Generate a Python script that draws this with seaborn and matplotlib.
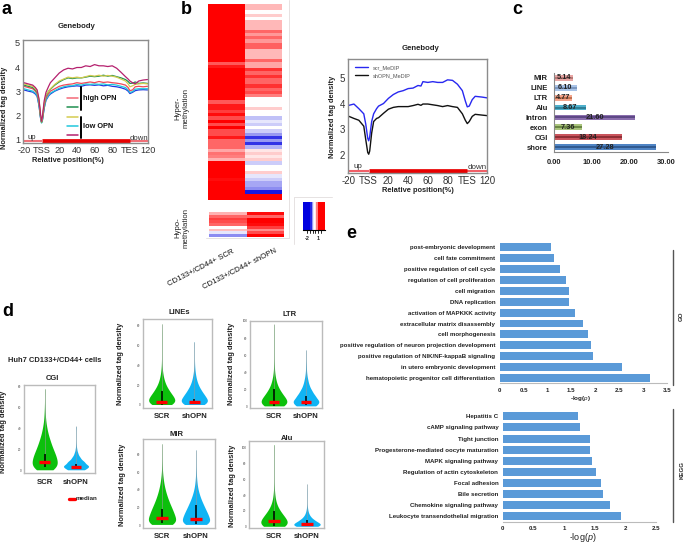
import matplotlib
matplotlib.use("Agg")
import matplotlib.pyplot as plt
from matplotlib.colors import LinearSegmentedColormap
import numpy as np
import pandas as pd
import seaborn as sns

sns.set_style("white")
plt.rcParams['font.family'] = ['Liberation Sans', 'DejaVu Sans']
plt.rcParams['mathtext.fontset'] = 'custom'
plt.rcParams['mathtext.rm'] = 'Liberation Sans'
plt.rcParams['mathtext.it'] = 'Liberation Sans:italic'

W, H = 685, 544

### panel a, profile curves
pos_a = [-20, -15, -10, -7, -5, -3, -1, 0, 1, 3, 5, 8, 10, 15, 20, 25, 30, 35, 40, 45, 50, 55, 60, 65, 70, 75, 80, 85, 90, 95, 98, 100, 103, 106, 110, 115, 120]
a_purple = [3.35, 3.3, 3.25, 3.15, 3.05, 2.7, 2.0, 1.75, 1.95, 2.6, 2.95, 3.2, 3.35, 3.55, 3.75, 3.88, 3.95, 3.92, 3.98, 3.98, 4.05, 4.02, 4.1, 4.05, 4.05, 4.02, 4.05, 3.95, 3.78, 3.6, 3.5, 3.42, 3.35, 3.3, 3.42, 3.46, 3.48]
a_yellow = [3.3, 3.25, 3.2, 3.1, 3.0, 2.65, 1.95, 1.72, 1.9, 2.5, 2.85, 3.0, 3.1, 3.28, 3.42, 3.5, 3.58, 3.55, 3.58, 3.55, 3.6, 3.65, 3.62, 3.66, 3.62, 3.65, 3.62, 3.58, 3.5, 3.42, 3.3, 3.18, 3.22, 3.28, 3.3, 3.32, 3.3]
a_teal = [3.25, 3.2, 3.15, 3.05, 2.95, 2.6, 1.9, 1.7, 1.85, 2.45, 2.8, 3.0, 3.08, 3.25, 3.38, 3.48, 3.55, 3.52, 3.55, 3.55, 3.58, 3.62, 3.6, 3.62, 3.66, 3.62, 3.65, 3.6, 3.55, 3.48, 3.4, 3.32, 3.33, 3.38, 3.32, 3.34, 3.32]
a_red = [3.2, 3.15, 3.1, 3.0, 2.9, 2.55, 1.9, 1.72, 1.85, 2.4, 2.72, 2.9, 3.0, 3.1, 3.2, 3.25, 3.28, 3.3, 3.35, 3.32, 3.35, 3.38, 3.35, 3.4, 3.36, 3.38, 3.35, 3.33, 3.3, 3.25, 3.15, 3.02, 3.05, 3.18, 3.2, 3.18, 3.2]
a_cyan = [3.1, 3.05, 3.0, 2.92, 2.82, 2.45, 1.85, 1.68, 1.8, 2.3, 2.65, 2.82, 2.92, 3.02, 3.12, 3.18, 3.22, 3.22, 3.28, 3.25, 3.3, 3.28, 3.3, 3.28, 3.3, 3.26, 3.28, 3.25, 3.2, 3.15, 3.05, 2.95, 2.98, 3.08, 3.1, 3.1, 3.1]
a_blue = [3.05, 3.0, 2.96, 2.88, 2.78, 2.42, 1.85, 1.7, 1.8, 2.3, 2.62, 2.8, 2.88, 3.0, 3.08, 3.14, 3.18, 3.2, 3.22, 3.2, 3.25, 3.26, 3.24, 3.26, 3.22, 3.24, 3.2, 3.18, 3.14, 3.08, 3.0, 2.9, 2.95, 3.02, 3.05, 3.06, 3.05]

### panel b, heatmaps
hyper_scr = [1, 1, 1, 1, 1, 1, 1, 1, 1, 1, 1, 1, 1, 1, 1, 1, 1, 1, .65, .9, 1, 1, 1, 1, 1, 1, 1, 1, 1, 1, .65, .9, .9, .75, .95, .7, 1, .7, 1, .7, .7, .9, .6, .6, .6, .35, .55, .5, .3, 1, 1, 1, 1, 1, .95, 1, 1, 1, 1, 1, 1]
hyper_sh = [.28, .28, 0, .2, 0, .28, .28, .28, .6, .4, .6, .4, .62, .62, .28, .28, .28, .6, .35, .35, .8, .6, .8, .6, .6, .8, .6, .7, .5, .0, .0, .0, .2, 0, 0, -.25, -.1, -.2, 0, -.2, -.4, -.8, -.4, -.8, -.3, .1, .2, .1, .2, -.2, 0, 0, .2, -.1, -.2, -.35, -.35, -.45, -.9, 1, 1]
hypo_scr = [.3, .6, .75, .7, .6, .0, .25, -.1, -.45]
hypo_sh = [.95, .6, 1, 1, .95, .75, .45, .7, 1]
cbar_vals = [-1, -1, -1, -1, -1, -1, -.85, -.4, -.1, 0, .1, .5, 1, 1, 1, 1, 1, 1]

### panel b, profile curves
pos_b = [-20, -15, -10, -5, -3, -1, 0, 1, 3, 5, 8, 10, 15, 20, 25, 30, 35, 40, 45, 50, 53, 55, 60, 65, 70, 75, 80, 85, 90, 95, 98, 100, 102, 105, 108, 115, 120]
b_scr = [3.93, 3.98, 3.8, 3.6, 3.2, 2.65, 2.55, 2.7, 3.3, 3.6, 3.8, 3.9, 4.0, 4.2, 4.35, 4.45, 4.5, 4.58, 4.6, 4.7, 4.68, 4.85, 4.82, 4.85, 4.82, 4.82, 4.92, 4.9, 4.75, 4.5, 4.1, 3.87, 3.9, 4.15, 4.28, 4.25, 4.22]
b_sh = [3.5, 3.42, 3.35, 3.12, 2.6, 2.1, 2.03, 2.15, 2.85, 3.3, 3.42, 3.45, 3.62, 3.78, 3.85, 3.88, 3.88, 3.88, 3.92, 3.97, 3.93, 3.98, 3.98, 3.95, 3.92, 3.88, 3.92, 3.88, 3.85, 3.6, 3.35, 3.22, 3.3, 3.5, 3.58, 3.55, 3.53]

### panel c
c_names = ['MIR', 'LINE', 'LTR', 'Alu', 'Intron', 'exon', 'CGI', 'shore']
c_vals = [5.14, 6.10, 4.77, 8.67, 21.60, 7.36, 18.24, 27.28]
c_cols = ['#e8a6a4', '#a9c4e8', '#f4a58c', '#4fb0cc', '#8b6fae', '#a9c47c', '#c9545c', '#4f84c4']
c_dark = ['#b87876', '#7c98c0', '#c07050', '#2f7f96', '#5e4886', '#6b8744', '#8e2f36', '#305a90']

### panel d, tag density levels and how many samples sit at each
cgi_scr_lv = [.5, 5, 10, 15, 20, 25, 30, 35, 40, 45, 50, 55, 60, 65, 70, 75, 78]
cgi_scr_n = [52, 80, 76, 66, 52, 40, 30, 20, 14, 8, 5, 3, 2, 1, 1, 1, 1]
cgi_sh_lv = [.5, 4, 8, 12, 16, 20, 24, 28, 32, 36, 40, 42]
cgi_sh_n = [48, 80, 52, 26, 12, 5, 2, 1, 1, 1, 1, 1]
line_scr_lv = [.5, 5, 10, 15, 20, 25, 30, 35, 40, 45, 50, 55, 60, 65, 70, 75, 82]
line_scr_n = [60, 80, 60, 40, 24, 14, 8, 4, 2, 1, 1, 1, 1, 1, 1, 1, 1]
line_sh_lv = [.5, 5, 10, 15, 20, 25, 30, 35, 40, 45, 50, 55, 60, 64]
line_sh_n = [60, 80, 60, 40, 24, 14, 8, 4, 2, 1, 1, 1, 1, 1]
ltr_scr_lv = [.5, 6, 12, 18, 24, 30, 36, 42, 48, 54, 60, 66, 72, 78, 84, 90, 96]
ltr_scr_n = [60, 80, 56, 36, 20, 12, 6, 3, 2, 1, 1, 1, 1, 1, 1, 1, 1]
ltr_sh_lv = [.5, 6, 12, 18, 24, 30, 36, 42, 48, 54, 60, 66]
ltr_sh_n = [60, 80, 56, 36, 20, 12, 6, 3, 2, 1, 1, 1]
mir_scr_lv = [1, 6, 12, 18, 24, 30, 36, 42, 48, 54, 60, 66, 72, 78, 84, 92]
mir_scr_n = [64, 80, 72, 60, 46, 34, 24, 16, 10, 6, 3, 2, 1, 1, 1, 1]
mir_sh_lv = [1, 6, 12, 18, 24, 30, 36, 42, 48, 54, 60, 66, 72, 78, 85]
mir_sh_n = [64, 80, 72, 56, 42, 28, 18, 10, 6, 3, 2, 1, 1, 1, 1]
alu_scr_lv = [.5, 7, 14, 21, 28, 35, 42, 49, 56, 63, 70, 77, 84, 91, 98, 104]
alu_scr_n = [68, 80, 56, 32, 16, 8, 4, 2, 1, 1, 1, 1, 1, 1, 1, 1]
alu_sh_lv = [.5, 4, 8, 12, 16, 20, 24, 28, 32, 36, 40, 44, 48, 54]
alu_sh_n = [68, 80, 48, 24, 12, 6, 3, 1, 1, 1, 1, 1, 1, 1]

violin_names = ['CGI', 'LINEs', 'LTR', 'MIR', 'Alu']
violin_scr = [(cgi_scr_lv, cgi_scr_n), (line_scr_lv, line_scr_n), (ltr_scr_lv, ltr_scr_n), (mir_scr_lv, mir_scr_n), (alu_scr_lv, alu_scr_n)]
violin_sh = [(cgi_sh_lv, cgi_sh_n), (line_sh_lv, line_sh_n), (ltr_sh_lv, ltr_sh_n), (mir_sh_lv, mir_sh_n), (alu_sh_lv, alu_sh_n)]
violin_ticks = [[0, 20, 40, 60, 80], [0, 20, 40, 60, 80], [0, 20, 40, 60, 80, 100], [0, 20, 40, 60, 80], [0, 20, 40, 60, 80, 100]]
medians = [[8, 3], [3.5, 3.5], [4.7, 4.7], [8, 6.8], [7, 4]]
whisk_lo = [[3, 1], [.5, 1], [.5, 1], [3, 2], [1, .5]]
whisk_hi = [[16, 6], [14, 6], [20, 12], [18, 23], [20, 8]]

### panel e
go_terms = ['post-embryonic development', 'cell fate commitment', 'positive regulation of cell cycle', 'regulation of cell proliferation', 'cell migration', 'DNA replication', 'activation of MAPKKK activity', 'extracellular matrix disassembly', 'cell morphogenesis', 'positive regulation of neuron projection development', 'positive regulation of NIK/NF-kappaB signaling', 'in utero embryonic development', 'hematopoietic progenitor cell differentiation']
go_vals = [1.08, 1.13, 1.26, 1.39, 1.46, 1.46, 1.57, 1.75, 1.84, 1.92, 1.95, 2.55, 3.15]
kegg_terms = ['Hepatitis C', 'cAMP signaling pathway', 'Tight junction', 'Progesterone-mediated oocyte maturation', 'MAPK signaling pathway', 'Regulation of actin cytoskeleton', 'Focal adhesion', 'Bile secretion', 'Chemokine signaling pathway', 'Leukocyte transendothelial migration']
kegg_vals = [1.23, 1.26, 1.42, 1.43, 1.45, 1.52, 1.61, 1.64, 1.75, 1.93]


def add_ax(left, top, right, bottom):
    return fig.add_axes([left / W, 1 - bottom / H, (right - left) / W, (bottom - top) / H])


def put_text(x, y, s, **kw):
    kw.setdefault('ha', 'center')
    kw.setdefault('va', 'center')
    fig.text(x / W, 1 - y / H, s, **kw)


def put_line(x0, y0, x1, y1, **kw):
    fig.add_artist(plt.Line2D([x0 / W, x1 / W], [1 - y0 / H, 1 - y1 / H], **kw))


def frame(ax, col='#8c8c8c', lw=1.0):
    for sp in ax.spines.values():
        sp.set_visible(True)
        sp.set_color(col)
        sp.set_linewidth(lw)


def profile_axis(ax, size):
    ax.set_xticks([-20, 0, 20, 40, 60, 80, 100, 120])
    ax.set_xticklabels(['-20', 'TSS', '20', '40', '60', '80', 'TES', '120'])
    ax.tick_params(labelsize=size, length=0, pad=2, colors='#333333')
    ax.set_xlabel('')
    ax.set_ylabel('')
    frame(ax)


fig = plt.figure(figsize=(W / 100, H / 100), dpi=100)

### a
ax = add_ax(23, 40, 148, 143)
curves_a = [(a_blue, '#2038e0'), (a_cyan, '#20c8dc'), (a_red, '#f04858'), (a_teal, '#1f8f50'), (a_yellow, '#d4cc50'), (a_purple, '#b5206e')]
for vals, col in curves_a:
    sns.lineplot(x=pos_a, y=vals, color=col, lw=0.9, ax=ax)
ax.plot([-20, 0], [.93, .93], color='#f07078', lw=1.5, solid_capstyle='butt')
ax.plot([100, 120], [.93, .93], color='#f07078', lw=1.5, solid_capstyle='butt')
ax.plot([0, 100], [.93, .93], color='#e80000', lw=3.4, solid_capstyle='butt')
ax.text(-11, 1.06, 'up', fontsize=5.6, ha='center', va='center', color='#333333')
ax.text(110, 1.05, 'down', fontsize=5.6, ha='center', va='center', color='#333333')
ax.set_xlim(-21, 120.5)
ax.set_ylim(.85, 5.12)
ax.set_yticks([1, 2, 3, 4, 5])
profile_axis(ax, 6.6)
put_text(76, 27, 'Genebody', fontsize=5.6, fontweight='bold', color='#222222')
put_text(5, 108, 'Normalized tag density', fontsize=5.4, fontweight='bold', rotation=90, color='#222222')
put_text(68, 160, 'Relative position(%)', fontsize=5.45, fontweight='bold', color='#222222')
legend_a = [('#f46a78', 98), ('#1f8f50', 107), ('#d4cc50', 117), ('#20c8dc', 126), ('#b5206e', 135)]
for col, y in legend_a:
    put_line(67, y, 78, y, color=col, lw=1.1)
put_line(81, 87, 81, 110, color='black', lw=1.4)
put_line(81, 117, 81, 138, color='black', lw=1.4)
put_text(83, 98, 'high OPN', fontsize=5.3, fontweight='bold', ha='left', color='#111111')
put_text(83, 126, 'low OPN', fontsize=5.3, fontweight='bold', ha='left', color='#111111')

### b heatmaps
rb = LinearSegmentedColormap.from_list('rb', ['#0000e0', '#ffffff', '#ff0000'])
ax = add_ax(208, 4, 282, 200)
sns.heatmap(pd.DataFrame({'a': hyper_scr, 'b': hyper_sh}), cmap=rb, vmin=-1, vmax=1, cbar=False, xticklabels=False, yticklabels=False, ax=ax)
ax = add_ax(209, 212, 284, 237)
sns.heatmap(pd.DataFrame({'a': hypo_scr, 'b': hypo_sh}), cmap=rb, vmin=-1, vmax=1, cbar=False, xticklabels=False, yticklabels=False, ax=ax)
ax = add_ax(303, 202, 325, 230)
sns.heatmap(np.array([cbar_vals]), cmap=rb, vmin=-1, vmax=1, cbar=False, xticklabels=False, yticklabels=False, ax=ax)
ax.spines['bottom'].set_visible(True)
ax.spines['bottom'].set_color('black')
put_text(307, 239, '-2', fontsize=4, fontweight='bold')
put_text(318, 239, '1', fontsize=4, fontweight='bold')
for x in [307, 310, 312.5, 315, 318, 321]:
    put_line(x, 230, x, 233, color='black', lw=.6)
pale = '#e6e2e2'
put_line(288.5, 0, 288.5, 238, color=pale, lw=.7)
put_line(206, 238, 288.5, 238, color=pale, lw=.7)
put_line(293.5, 197, 293.5, 244, color=pale, lw=.7)
put_line(293.5, 197, 332, 197, color=pale, lw=.7)
put_text(182, 108, 'Hyper-\nmethylation', fontsize=5.6, rotation=90, linespacing=1.15)
put_text(182, 228, 'Hypo-\nmethylation', fontsize=5.6, rotation=90, linespacing=1.15)
put_text(232, 248, 'CD133+/CD44+ SCR', fontsize=5.6, rotation=27, ha='right', va='top', rotation_mode='anchor', color='#111111')
put_text(275, 247, 'CD133+/CD44+ shOPN', fontsize=5.6, rotation=27, ha='right', va='top', rotation_mode='anchor', color='#111111')

### b profile
ax = add_ax(348, 59, 487, 173)
sns.lineplot(x=pos_b, y=b_scr, color='#2828f0', lw=1.0, ax=ax, label='scr_MeDIP')
sns.lineplot(x=pos_b, y=b_sh, color='#111111', lw=1.0, ax=ax, label='shOPN_MeDIP')
ax.legend(loc='upper left', frameon=False, fontsize=4, labelcolor='#555555', bbox_to_anchor=(0.02, 0.98), handlelength=2.4, labelspacing=.5, borderpad=0.2)
ax.plot([-20, 0], [1.38, 1.38], color='#f06068', lw=1.5, solid_capstyle='butt')
ax.plot([100, 120], [1.38, 1.38], color='#f06068', lw=1.5, solid_capstyle='butt')
ax.plot([0, 100], [1.38, 1.38], color='#e80000', lw=3.4, solid_capstyle='butt')
ax.text(-11, 1.55, 'up', fontsize=5.8, ha='center', va='center', color='#333333')
ax.text(110, 1.52, 'down', fontsize=5.8, ha='center', va='center', color='#333333')
ax.set_xlim(-21, 120)
ax.set_ylim(1.3, 5.73)
ax.set_yticks([2, 3, 4, 5])
profile_axis(ax, 7)
put_text(420, 48, 'Genebody', fontsize=5.6, fontweight='bold', color='#222222')
put_text(333, 117, 'Normalized tag density', fontsize=5.4, fontweight='bold', rotation=90, color='#222222')
put_text(418, 190.5, 'Relative position(%)', fontsize=5.45, fontweight='bold', color='#222222')

### c, one call per bar so each gets its own colour
ax = add_ax(554, 73, 667.5, 152)
for name, v, col, dark in zip(c_names, c_vals, c_cols, c_dark):
    sns.barplot(x=[v], y=[name], order=c_names, color=col, width=.58, saturation=1, linewidth=0, ax=ax)
    sns.barplot(x=[v], y=[name], order=c_names, color=dark, width=.2, saturation=1, linewidth=0, ax=ax)
for i, v in enumerate(c_vals):
    ax.text(v / 2, i, f'{v:.2f}', fontsize=5.3, fontweight='bold', ha='center', va='center', color='#222222')
ax.set_xlim(0, 30.3)
ax.set_xticks([0, 10, 20, 30])
ax.set_xticklabels(['0.00', '10.00', '20.00', '30.00'])
ax.tick_params(axis='x', length=0, labelsize=5.4, pad=5)
ax.tick_params(axis='y', length=0, labelsize=5.5, pad=4.5)
for lab in ax.get_xticklabels() + ax.get_yticklabels():
    lab.set_fontweight('bold')
    lab.set_color('#222222')
ax.set_xlabel('')
ax.set_ylabel('')
sns.despine(ax=ax)
ax.spines['left'].set_color('#888888')
ax.spines['bottom'].set_color('#888888')

### d
violin_boxes = [(24, 385, 95, 473), (143, 319, 212, 408), (250, 321, 322, 408), (143, 439, 215, 528), (249, 441, 324, 528)]
unit_px = [1.045, .99, .857, .8875, .79]
zero_y = [470.3, 405, 406.3, 525.3, 526.7]
center_px = [(44.7, 76), (161.7, 194.3), (274, 306), (162, 196), (274, 307)]
title_xy = [(52, 378), (179, 313), (290, 315), (176, 435), (287, 438)]
ylab_xy = [(4, 432), (120, 364), (231, 364), (122, 485), (233, 486)]
cat_xy_y = [482, 416, 416, 537, 537]

for k, name in enumerate(violin_names):
    l, t, r, b = violin_boxes[k]
    ax = add_ax(l, t, r, b)
    scr = np.repeat(violin_scr[k][0], violin_scr[k][1])
    sh = np.repeat(violin_sh[k][0], violin_sh[k][1])
    df = pd.DataFrame({'group': ['SCR'] * len(scr) + ['shOPN'] * len(sh), 'value': np.concatenate([scr, sh])})
    sns.violinplot(data=df, x='group', y='value', hue='group', palette=['#0cc00c', '#10b4f4'], saturation=1, legend=False, inner=None, cut=0, bw_method=.3, density_norm='width', width=.8, linewidth=0, ax=ax)
    for i in range(2):
        top = max(scr) if i == 0 else max(sh)
        ax.vlines(i, whisk_hi[k][i], top, color='#999999', lw=.4)
        ax.vlines(i, whisk_lo[k][i], whisk_hi[k][i], color='black', lw=1.1)
        ax.hlines(medians[k][i], i - .17, i + .17, color='#ff0000', lw=2.4)
    c0, c1 = center_px[k]
    unit = c1 - c0
    ax.set_xlim((l - c0) / unit, (r - c0) / unit)
    ax.set_ylim((zero_y[k] - b) / unit_px[k], (zero_y[k] - t) / unit_px[k])
    ax.set_yticks(violin_ticks[k])
    ax.tick_params(axis='y', labelsize=2.2, length=1, width=.4, pad=1, colors='#444444')
    ax.set_xticks([])
    ax.set_xlabel('')
    ax.set_ylabel('')
    frame(ax, '#bbbbbb', 1.0)
    put_text(title_xy[k][0], title_xy[k][1], name, fontsize=5.5, fontweight='bold', color='#222222')
    put_text(ylab_xy[k][0], ylab_xy[k][1], 'Normalized tag density', fontsize=5.4, fontweight='bold', rotation=90, color='#222222')
    put_text(c0, cat_xy_y[k], 'SCR', fontsize=5.6, fontweight='bold', color='#222222')
    put_text(c1, cat_xy_y[k], 'shOPN', fontsize=5.6, fontweight='bold', color='#222222')

put_text(55, 361, 'Huh7 CD133+/CD44+ cells', fontsize=5.45, fontweight='bold', color='#222222')
put_line(68.5, 498.5, 75, 498.5, color='#ff0000', lw=2.4)
put_text(76, 498.5, 'median', fontsize=4.5, fontweight='bold', ha='left', color='#222222')

### e
ax = add_ax(499.7, 247 - 5.04, 667, 383.3)
sns.barplot(x=go_vals, y=go_terms, color='#5a9ad8', width=.72, saturation=1, linewidth=0, ax=ax)
ax.set_xlim(0, 3.5)
ax.set_xticks([0, .5, 1, 1.5, 2, 2.5, 3, 3.5])
ax.set_xticklabels(['0', '0.5', '1', '1.5', '2', '2.5', '3', '3.5'])

ax2 = add_ax(502.7, 410.75, 656, 521.85)
sns.barplot(x=kegg_vals, y=kegg_terms, color='#5a9ad8', width=.72, saturation=1, linewidth=0, ax=ax2)
ax2.set_xlim(0, 2.5)
ax2.set_xticks([0, .5, 1, 1.5, 2, 2.5])
ax2.set_xticklabels(['0', '0.5', '1', '1.5', '2', '2.5'])
for a in [ax, ax2]:
    a.tick_params(axis='both', length=0, labelsize=4.4, pad=3.2)
    for lab in a.get_xticklabels() + a.get_yticklabels():
        lab.set_fontweight('bold')
        lab.set_color('#222222')
    a.set_xlabel('')
    a.set_ylabel('')
    sns.despine(ax=a)
    a.spines['left'].set_visible(False)
    a.spines['bottom'].set_color('#bbbbbb')
put_text(580, 398.5, '-log($p$)', fontsize=4.5, fontweight='bold', color='#222222')
put_text(583, 537.5, '-log($p$)', fontsize=6.5, color='#222222')
put_line(673, 250, 673, 385, color='#555555', lw=1)
put_line(673, 409, 673, 522, color='#555555', lw=1)
put_text(681, 316, 'GO', fontsize=4.4, fontweight='bold', rotation=90)
put_text(682, 470, 'KEGG', fontsize=4.4, fontweight='bold', rotation=90)

### panel letters
for s, x, y in [('a', 2, 9), ('b', 181, 9), ('c', 512, 10), ('d', 2, 311), ('e', 346, 234)]:
    put_text(x, y, s, fontsize=13, fontweight='bold', ha='left', color='black')

fig.savefig('out.png', dpi=100)
